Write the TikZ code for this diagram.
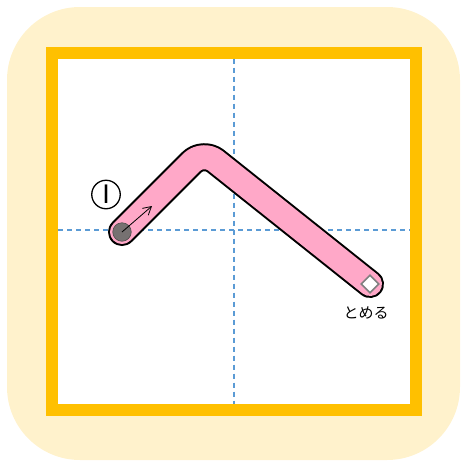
\documentclass[tikz,border=0pt]{standalone}
\usepackage{fontspec}
\newfontfamily\jpfont{Noto Sans CJK JP}
\newfontfamily\numfont{Liberation Sans}
\usetikzlibrary{arrows.meta}
\definecolor{cream}{HTML}{FFF2CC}
\definecolor{gold}{HTML}{FFC000}
\definecolor{guide}{HTML}{5B9BD5}
\definecolor{strokepink}{HTML}{FFA8C8}
\definecolor{startgrey}{HTML}{767171}
\definecolor{markgrey}{HTML}{7F7F7F}
\tikzset{
  guideline/.style={guide, dash pattern=on 5pt off 4pt, line width=1.2pt},
  strokeout/.style={black, line width=28pt, line cap=round, line join=round, rounded corners=16pt},
  strokein/.style={strokepink, line width=24pt, line cap=round, line join=round, rounded corners=16pt},
  startdot/.style={circle, fill=startgrey, draw=black!70, line width=0.6pt, minimum size=18.5pt, inner sep=0pt},
  stopmark/.style={rectangle, rotate=45, fill=white, draw=markgrey, line width=1.6pt, minimum size=12.5pt, inner sep=0pt},
  dirarrow/.style={black, line width=0.8pt, -{Straight Barb[length=8pt,width=9pt]}},
  numlabel/.style={circle, draw=black, line width=1.3pt, minimum size=28.5pt, inner sep=0pt, font=\numfont\fontsize{27}{27}\selectfont},
  notelabel/.style={font=\jpfont\fontsize{15}{16}\selectfont, inner sep=0pt}
}
\begin{document}
\begin{tikzpicture}[x=1pt,y=-1pt]
\useasboundingbox (0,0) rectangle (461,461);
\fill[cream, rounded corners=73pt] (7,7) rectangle (460,460);
\fill[white] (58,58.5) rectangle (409.5,403.5);
\draw[gold, line width=12pt] (52,52.5) rectangle (415.5,409.5);
\coordinate (vt) at (234,58.5);
\coordinate (vb) at (234,403.5);
\coordinate (hl) at (58,230);
\coordinate (hr) at (409.5,230);
\draw[guideline] (vt) -- (vb);
\draw[guideline] (hl) -- (hr);
\coordinate (s) at (122,232);
\coordinate (c) at (203,151);
\coordinate (e) at (370,284);
\coordinate (a) at (152,206);
\draw[strokeout] (s) -- (c) -- (e);
\draw[strokein] (s) -- (c) -- (e);
\node[startdot] (start) at (s) {};
\draw[dirarrow] (s) -- (a);
\node[stopmark] (stop) at (e) {};
\node[numlabel] (num) at (106,194.5) {I};
\node[notelabel] (tomeru) at (366,313) {とめる};
\end{tikzpicture}
\end{document}
